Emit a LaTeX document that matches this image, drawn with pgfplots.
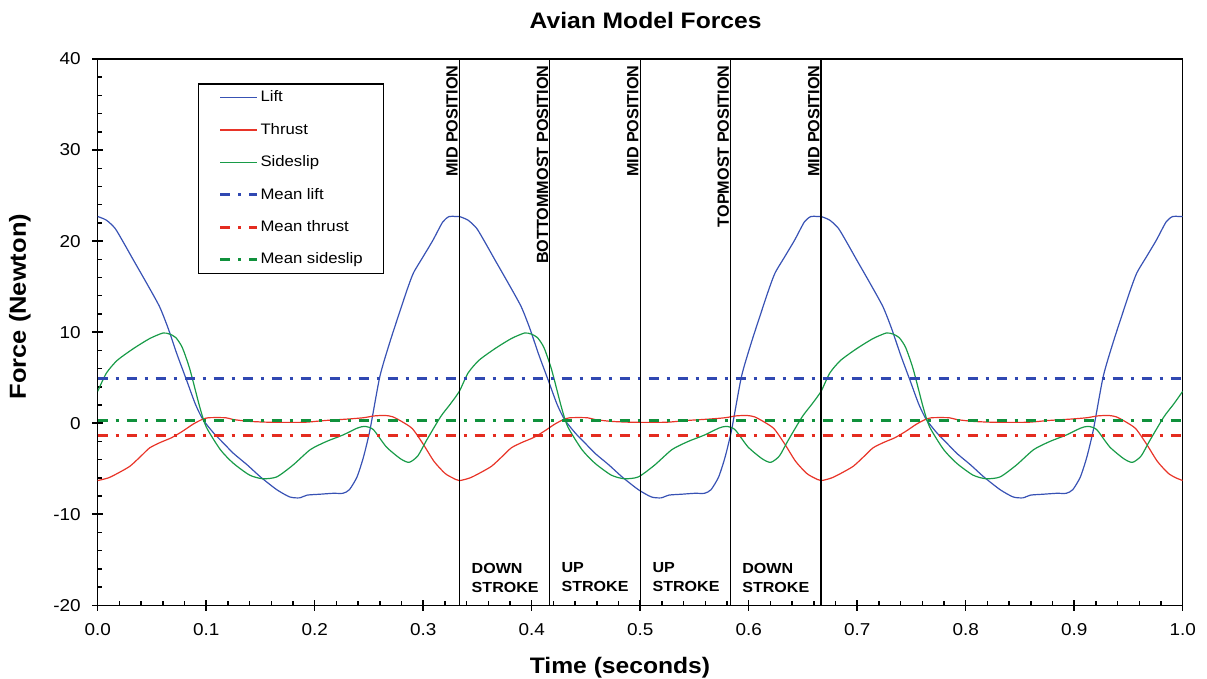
\documentclass[border=0pt]{standalone}
\usepackage{pgfplots}
\pgfplotsset{compat=1.18}
\usepackage{fontspec}
\setmainfont{Liberation Sans}[FakeStretch=1.1]
\newfontfamily\annotfont{Liberation Sans}

\definecolor{liftblue}{RGB}{56,82,180}
\definecolor{thrustred}{RGB}{232,52,40}
\definecolor{slipgreen}{RGB}{24,155,72}
\definecolor{meanblue}{RGB}{48,72,178}
\definecolor{meanred}{RGB}{228,44,32}
\definecolor{meangreen}{RGB}{16,145,60}

\tikzset{
  meanline/.style={line width=1.5pt, dash pattern=on 5pt off 4pt on 1.5pt off 4pt},
  curve/.style={line width=0.6pt, line join=round, smooth, tension=0.4},
  stroke label/.style={anchor=south west, inner sep=0pt, align=left,
    font=\fontsize{7.3}{9.5}\selectfont\bfseries},
  pos label/.style={anchor=south east, rotate=90, inner sep=0pt,
    font=\annotfont\fontsize{8.1}{9.5}\selectfont\bfseries},
}

\begin{document}
\begin{tikzpicture}
\path[use as bounding box] (-48.85pt,-36.85pt) rectangle (554.65pt,302.65pt);
\begin{axis}[
  scale only axis,
  width=542.5pt, height=273.15pt,
  xmin=0, xmax=1, ymin=-20, ymax=40,
  xtick={0,0.1,0.2,0.3,0.4,0.5,0.6,0.7,0.8,0.9,1.0},
  ytick={-20,-10,0,10,20,30,40},
  minor x tick num=4, minor y tick num=4,
  xtick pos=bottom, ytick pos=left,
  axis line style={line width=0.75pt},
  tick style={black, line width=0.75pt},
  tick align=center,
  major tick length=5.5pt,
  minor tick length=2.25pt,
  minor x tick style={yshift=1.125pt},
  minor y tick style={xshift=1.125pt},
  /pgf/number format/assume math mode=true,
  tick label style={font=\fontsize{8.6}{10}\selectfont, inner sep=0pt},
  xticklabel style={/pgf/number format/.cd, fixed, fixed zerofill, precision=1},
  yticklabel style={/pgf/number format/.cd, fixed, precision=0},
  xticklabel shift=6pt,
  yticklabel shift=5.6pt,
  title={Avian Model Forces},
  every axis title shift=0pt,
  title style={at={([yshift=15.35pt]axis description cs:0.505,1)}, anchor=base, yshift=0pt,
    font=\fontsize{11.2}{13}\selectfont\bfseries, inner sep=0pt},
  xlabel={Time (seconds)},
  xlabel style={at={([yshift=-34pt]axis description cs:0.4814,0)}, anchor=base,
    font=\fontsize{11.2}{13}\selectfont\bfseries, inner sep=0pt},
  ylabel={Force (Newton)},
  ylabel style={at={([xshift=-35.85pt]axis description cs:0,0.5466)}, rotate=0, anchor=base,
    font=\fontsize{11.6}{13}\selectfont\bfseries, inner sep=0pt},
  legend cell align=left,
  legend image code/.code={\draw[#1] (0pt,0pt) -- (18.3pt,0pt);},
  legend style={at={(axis description cs:0.0922,0.9555)}, anchor=north west,
    draw=black, line width=0.6pt, fill=white,
    font=\fontsize{7.6}{9}\selectfont,
    inner xsep=10.3pt, inner ysep=3pt, row sep=8.6pt,
    nodes={inner sep=0pt, text height=6pt, text depth=1.6pt},
    /tikz/every odd column/.append style={column sep=1pt}},
]

% Lift
\addplot[curve, liftblue] coordinates {
(0.0000,22.7)(0.0080,22.3)(0.0160,21.4)(0.0240,19.8)(0.0330,17.9)(0.0450,15.4)(0.0570,12.8)(0.0650,10.4)
(0.0730,7.6)(0.0820,4.7)(0.0900,2.1)(0.0970,0.4)(0.1070,-1.1)(0.1160,-2.2)(0.1250,-3.3)(0.1380,-4.6)
(0.1500,-5.9)(0.1650,-7.3)(0.1770,-8.1)(0.1860,-8.2)(0.1930,-7.9)(0.2050,-7.8)(0.2170,-7.7)(0.2260,-7.7)
(0.2320,-7.3)(0.2390,-5.9)(0.2450,-3.7)(0.2510,-0.7)(0.2600,5.1)(0.2690,8.8)(0.2780,12.1)(0.2850,14.6)
(0.2910,16.5)(0.3000,18.3)(0.3090,20.1)(0.3180,22.1)(0.3240,22.7)(0.3300,22.7)
(0.3333,22.7)(0.3413,22.3)(0.3493,21.4)(0.3573,19.8)(0.3663,17.9)(0.3783,15.4)(0.3903,12.8)(0.3983,10.4)
(0.4063,7.6)(0.4153,4.7)(0.4233,2.1)(0.4303,0.4)(0.4403,-1.1)(0.4493,-2.2)(0.4583,-3.3)(0.4713,-4.6)
(0.4833,-5.9)(0.4983,-7.3)(0.5103,-8.1)(0.5193,-8.2)(0.5263,-7.9)(0.5383,-7.8)(0.5503,-7.7)(0.5593,-7.7)
(0.5653,-7.3)(0.5723,-5.9)(0.5783,-3.7)(0.5843,-0.7)(0.5933,5.1)(0.6023,8.8)(0.6113,12.1)(0.6183,14.6)
(0.6243,16.5)(0.6333,18.3)(0.6423,20.1)(0.6513,22.1)(0.6573,22.7)(0.6633,22.7)
(0.6667,22.7)(0.6747,22.3)(0.6827,21.4)(0.6907,19.8)(0.6997,17.9)(0.7117,15.4)(0.7237,12.8)(0.7317,10.4)
(0.7397,7.6)(0.7487,4.7)(0.7567,2.1)(0.7637,0.4)(0.7737,-1.1)(0.7827,-2.2)(0.7917,-3.3)(0.8047,-4.6)
(0.8167,-5.9)(0.8317,-7.3)(0.8437,-8.1)(0.8527,-8.2)(0.8597,-7.9)(0.8717,-7.8)(0.8837,-7.7)(0.8927,-7.7)
(0.8987,-7.3)(0.9057,-5.9)(0.9117,-3.7)(0.9177,-0.7)(0.9267,5.1)(0.9357,8.8)(0.9447,12.1)(0.9517,14.6)
(0.9577,16.5)(0.9667,18.3)(0.9757,20.1)(0.9847,22.1)(0.9907,22.7)(0.9967,22.7)(1.0000,22.7)
};
\addlegendentry{Lift}

% Thrust
\addplot[curve, thrustred] coordinates {
(0.0000,-6.3)(0.0100,-6.0)(0.0200,-5.4)(0.0300,-4.7)(0.0400,-3.6)(0.0480,-2.7)(0.0580,-2.1)(0.0680,-1.6)
(0.0780,-0.9)(0.0880,-0.1)(0.0960,0.4)(0.1020,0.6)(0.1180,0.6)(0.1250,0.4)(0.1400,0.2)(0.1600,0.1)
(0.1900,0.1)(0.2100,0.3)(0.2300,0.45)(0.2450,0.6)(0.2550,0.8)(0.2650,0.85)(0.2720,0.7)(0.2800,0.2)
(0.2900,-0.6)(0.3000,-2.3)(0.3100,-4.2)(0.3200,-5.5)(0.3270,-6.0)
(0.3333,-6.3)(0.3433,-6.0)(0.3533,-5.4)(0.3633,-4.7)(0.3733,-3.6)(0.3813,-2.7)(0.3913,-2.1)(0.4013,-1.6)
(0.4113,-0.9)(0.4213,-0.1)(0.4293,0.4)(0.4353,0.6)(0.4513,0.6)(0.4583,0.4)(0.4733,0.2)(0.4933,0.1)
(0.5233,0.1)(0.5433,0.3)(0.5633,0.45)(0.5783,0.6)(0.5883,0.8)(0.5983,0.85)(0.6053,0.7)(0.6133,0.2)
(0.6233,-0.6)(0.6333,-2.3)(0.6433,-4.2)(0.6533,-5.5)(0.6603,-6.0)
(0.6667,-6.3)(0.6767,-6.0)(0.6867,-5.4)(0.6967,-4.7)(0.7067,-3.6)(0.7147,-2.7)(0.7247,-2.1)(0.7347,-1.6)
(0.7447,-0.9)(0.7547,-0.1)(0.7627,0.4)(0.7687,0.6)(0.7847,0.6)(0.7917,0.4)(0.8067,0.2)(0.8267,0.1)
(0.8567,0.1)(0.8767,0.3)(0.8967,0.45)(0.9117,0.6)(0.9217,0.8)(0.9317,0.85)(0.9387,0.7)(0.9467,0.2)
(0.9567,-0.6)(0.9667,-2.3)(0.9767,-4.2)(0.9867,-5.5)(0.9937,-6.0)(1.0000,-6.3)
};
\addlegendentry{Thrust}

% Sideslip
\addplot[curve, slipgreen] coordinates {
(0.0000,3.5)(0.0080,5.5)(0.0180,6.9)(0.0330,8.2)(0.0480,9.3)(0.0600,9.9)(0.0660,9.8)(0.0720,9.4)
(0.0780,8.3)(0.0850,5.9)(0.0940,1.8)(0.1000,-0.4)(0.1130,-2.9)(0.1250,-4.4)(0.1400,-5.7)(0.1520,-6.1)
(0.1650,-5.9)(0.1800,-4.6)(0.1960,-2.9)(0.2110,-2.0)(0.2260,-1.3)(0.2390,-0.55)(0.2460,-0.35)(0.2540,-0.7)
(0.2660,-2.6)(0.2790,-3.9)(0.2870,-4.3)(0.2950,-3.6)(0.3030,-1.9)(0.3160,0.7)(0.3250,2.1)
(0.3333,3.5)(0.3413,5.5)(0.3513,6.9)(0.3663,8.2)(0.3813,9.3)(0.3933,9.9)(0.3993,9.8)(0.4053,9.4)
(0.4113,8.3)(0.4183,5.9)(0.4273,1.8)(0.4333,-0.4)(0.4463,-2.9)(0.4583,-4.4)(0.4733,-5.7)(0.4853,-6.1)
(0.4983,-5.9)(0.5133,-4.6)(0.5293,-2.9)(0.5443,-2.0)(0.5593,-1.3)(0.5723,-0.55)(0.5793,-0.35)(0.5873,-0.7)
(0.5993,-2.6)(0.6123,-3.9)(0.6203,-4.3)(0.6283,-3.6)(0.6363,-1.9)(0.6493,0.7)(0.6583,2.1)
(0.6667,3.5)(0.6747,5.5)(0.6847,6.9)(0.6997,8.2)(0.7147,9.3)(0.7267,9.9)(0.7327,9.8)(0.7387,9.4)
(0.7447,8.3)(0.7517,5.9)(0.7607,1.8)(0.7667,-0.4)(0.7797,-2.9)(0.7917,-4.4)(0.8067,-5.7)(0.8187,-6.1)
(0.8317,-5.9)(0.8467,-4.6)(0.8627,-2.9)(0.8777,-2.0)(0.8927,-1.3)(0.9057,-0.55)(0.9127,-0.35)(0.9207,-0.7)
(0.9327,-2.6)(0.9457,-3.9)(0.9537,-4.3)(0.9617,-3.6)(0.9697,-1.9)(0.9827,0.7)(0.9917,2.1)(1.0000,3.5)
};
\addlegendentry{Sideslip}

% Mean values
\addplot[meanline, meanblue] coordinates {(0,4.95) (1,4.95)};
\addlegendentry{Mean lift}
\addplot[meanline, meanred] coordinates {(0,-1.35) (1,-1.35)};
\addlegendentry{Mean thrust}
\addplot[meanline, meangreen] coordinates {(0,0.3) (1,0.3)};
\addlegendentry{Mean sideslip}

% Wing position markers
\addplot[forget plot, black, line width=0.65pt] coordinates {(0.3333,-20) (0.3333,40)};
\addplot[forget plot, black, line width=0.65pt] coordinates {(0.4167,-20) (0.4167,40)};
\addplot[forget plot, black, line width=0.65pt] coordinates {(0.5000,-20) (0.5000,40)};
\addplot[forget plot, black, line width=0.65pt] coordinates {(0.5833,-20) (0.5833,40)};
\addplot[forget plot, black, line width=0.65pt] coordinates {(0.6667,-20) (0.6667,40)};

\node[pos label] at ([xshift=-0.6pt,yshift=-3pt]axis cs:0.3333,40) {MID POSITION};
\node[pos label] at ([xshift=-0.6pt,yshift=-3pt]axis cs:0.4167,40) {BOTTOMMOST POSITION};
\node[pos label] at ([xshift=-0.6pt,yshift=-3pt]axis cs:0.5000,40) {MID POSITION};
\node[pos label] at ([xshift=-0.6pt,yshift=-3pt]axis cs:0.5833,40) {TOPMOST POSITION};
\node[pos label] at ([xshift=-0.6pt,yshift=-3pt]axis cs:0.6667,40) {MID POSITION};

\node[stroke label] at ([xshift=6pt,yshift=6pt]axis cs:0.3333,-20) {DOWN\\STROKE};
\node[stroke label] at ([xshift=5.7pt,yshift=6.4pt]axis cs:0.4167,-20) {UP\\STROKE};
\node[stroke label] at ([xshift=6pt,yshift=6.4pt]axis cs:0.5000,-20) {UP\\STROKE};
\node[stroke label] at ([xshift=5.7pt,yshift=6pt]axis cs:0.5833,-20) {DOWN\\STROKE};
\end{axis}
\end{tikzpicture}
\end{document}
